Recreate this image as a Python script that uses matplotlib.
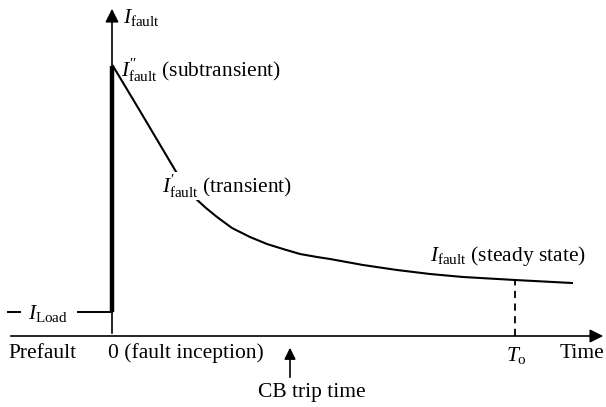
import matplotlib
matplotlib.use("Agg")
import matplotlib.pyplot as plt

plt.rcParams['font.family'] = ['Liberation Serif', 'DejaVu Serif']
plt.rcParams['mathtext.fontset'] = 'custom'
plt.rcParams['mathtext.rm'] = 'Liberation Serif'
plt.rcParams['mathtext.it'] = 'Liberation Serif:italic'

# fault current after inception (time, current) in arbitrary units
fault_t = [1, 28, 63, 73, 83, 94, 105, 120, 138, 155, 171, 188, 205, 218,
           251, 285, 318, 351, 403, 460]
fault_i = [270, 225, 166, 150, 138, 128, 119, 108, 99, 92, 87, 82, 79, 77,
           71, 66, 62, 59, 56, 53]
load_i = 24
peak_i = 270
t_open = 403
cb_trip_t = 178

fig = plt.figure(figsize=(6.06, 4.07), dpi=100)
ax = fig.add_axes([0, 0, 1, 1])
ax.set_xlim(-112, 494)
ax.set_ylim(-71, 336)
ax.axis('off')

fs = 15.5

# axes with arrow heads
ax.annotate('', xy=(494, 0), xytext=(-104, 0),
            arrowprops=dict(arrowstyle='-|>', lw=1.2, color='k', mutation_scale=20))
ax.annotate('', xy=(0, 330), xytext=(0, 0),
            arrowprops=dict(arrowstyle='-|>', lw=1.2, color='k', mutation_scale=20))

# prefault load current and the jump at inception
ax.plot([-104, -92], [load_i, load_i], color='k', lw=1.4)
ax.plot([-34, 0], [load_i, load_i], color='k', lw=1.4)
ax.plot([0, 0], [load_i, peak_i], color='k', lw=3.2, solid_capstyle='butt')

ax.plot(fault_t, fault_i, color='k', lw=1.5)
ax.plot([t_open, t_open], [0, 56], color='k', lw=1.3, ls=(0, (4, 3)))

# labels
ax.text(-84, load_i - 2, r'$I_{\rm Load}$', fontsize=fs, ha='left', va='center')
ax.text(11, 319, r'$I_{\rm fault}$', fontsize=fs, ha='left', va='center')
ax.text(9, 266, r'$I^{\prime\prime}_{\rm fault}$ (subtransient)', fontsize=fs,
        ha='left', va='center')
ax.text(50, 150, r'$I^{\prime}_{\rm fault}$ (transient)', fontsize=fs, ha='left',
        va='center', bbox=dict(facecolor='white', edgecolor='none', pad=0.5), zorder=5)
ax.text(318, 80, r'$I_{\rm fault}$ (steady state)', fontsize=fs, ha='left',
        va='center', zorder=5)

ax.text(-104, -17, 'Prefault', fontsize=fs, ha='left', va='center')
ax.text(-4, -17, '0 (fault inception)', fontsize=fs, ha='left', va='center')
ax.text(t_open - 9, -19, r'$T_{\rm o}$', fontsize=fs, ha='left', va='center')
ax.text(448, -17, 'Time', fontsize=fs, ha='left', va='center')

ax.annotate('', xy=(cb_trip_t, -9), xytext=(cb_trip_t, -44),
            arrowprops=dict(arrowstyle='-|>', lw=1.2, color='k', mutation_scale=17))
ax.text(cb_trip_t + 22, -57, 'CB trip time', fontsize=fs, ha='center', va='center')

plt.savefig('out.png', dpi=100)
